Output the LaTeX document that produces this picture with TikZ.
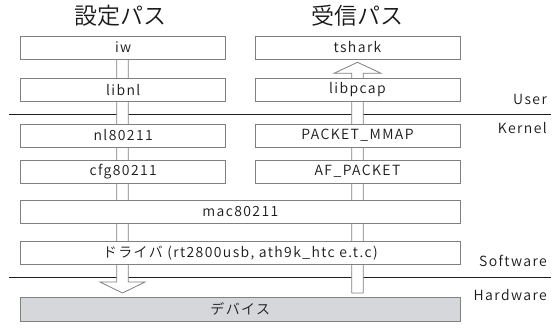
\documentclass[tikz,border=0pt]{standalone}
\usepackage{fontspec}
\setmainfont{Noto Sans CJK JP}
\newfontfamily\jpfont{Noto Sans CJK JP DemiLight}
\newfontfamily\layerfont{Noto Sans CJK JP DemiLight}[LetterSpace=10]
\definecolor{edgegray}{RGB}{128,128,128}
\definecolor{devfill}{RGB}{214,215,219}
\definecolor{rulecol}{RGB}{30,30,30}
\definecolor{inkcol}{RGB}{25,25,25}
\begin{document}
\begin{tikzpicture}[x=1pt,y=-1pt,
  layer/.style={draw=edgegray,fill=white,line width=0.9pt,minimum height=23pt,
    inner sep=0pt,text=inkcol,font=\layerfont\fontsize{14}{16}\selectfont},
  half/.style={layer,minimum width=205pt},
  full/.style={layer,minimum width=439.3pt},
  blockarrow/.style={draw=edgegray,fill=white,line width=0.8pt,line join=miter},
  divider/.style={draw=rulecol,line width=0.9pt},
  sidelabel/.style={anchor=east,inner sep=0pt,text=inkcol,font=\layerfont\fontsize{14}{16}\selectfont},
  heading/.style={inner sep=0pt,text=inkcol,font=\jpfont\fontsize{23}{26}\selectfont}]
\useasboundingbox (0,0) rectangle (559,331);

% layer boundaries
\coordinate (ukL) at (9,114);   \coordinate (ukR) at (551,114);
\coordinate (shL) at (9,277);   \coordinate (shR) at (551,277);
\draw[divider] (ukL) -- (ukR);
\draw[divider] (shL) -- (shR);

% configuration path: downward block arrow
\draw[blockarrow] (116.7,47) -- (116.7,282) -- (100,282) -- (122.5,293)
  -- (145,282) -- (128.3,282) -- (128.3,47) -- cycle;
% receive path: upward block arrow
\draw[blockarrow] (351.7,293) -- (351.7,73.3) -- (334,73.3) -- (357.5,62.3)
  -- (381,73.3) -- (363.3,73.3) -- (363.3,293) -- cycle;

% headings
\node[heading] (hcfg) at (120,16) {設定パス};
\node[heading] (hrx)  at (357,16) {受信パス};

% configuration stack
\node[half] (iw)      at (123.2,47.5)  {iw};
\node[half] (libnl)   at (123.2,90)    {libnl};
\node[half] (nl)      at (123.2,135.5) {nl80211};
\node[half] (cfg)     at (123.2,171.5) {cfg80211};

% receive stack
\node[half] (tshark)  at (357.5,47.5)  {tshark};
\node[half] (libpcap) at (357.5,90)    {libpcap};
\node[half] (mmap)    at (357.5,135.5) {PACKET\_MMAP};
\node[half] (afp)     at (357.5,171.5) {AF\_PACKET};

% shared layers
\node[full] (mac)    at (240.3,212) {mac80211};
\node[full] (drv)    at (240.3,253) {ドライバ (rt2800usb, ath9k\_htc e.t.c)};
\node[full,fill=devfill,minimum height=24pt] (dev) at (240.3,309) {デバイス};

% side labels
\node[sidelabel] (luser) at (547,99)  {User};
\node[sidelabel] (lkern) at (547,128) {Kernel};
\node[sidelabel] (lsoft) at (547,261) {Software};
\node[sidelabel] (lhard) at (547,295) {Hardware};
\end{tikzpicture}
\end{document}
